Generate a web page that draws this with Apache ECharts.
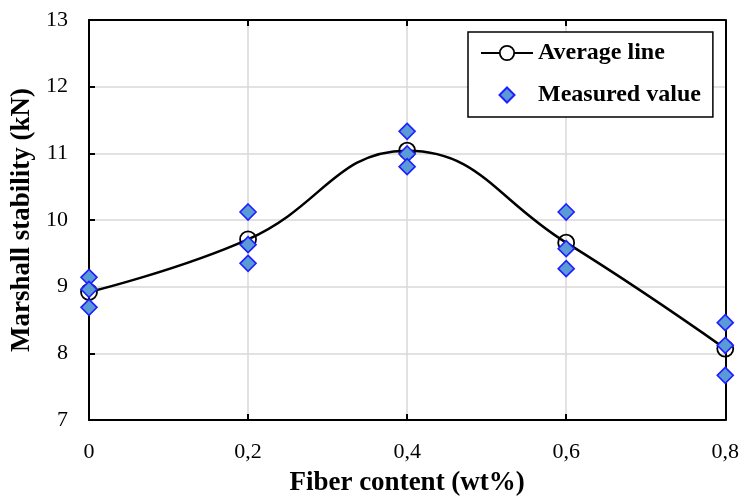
<!DOCTYPE html>
<html>
<head>
<meta charset="utf-8">
<script src="https://cdn.jsdelivr.net/npm/echarts@6/dist/echarts.min.js"></script>
<style>html,body{margin:0;padding:0;background:#fff}#c{width:742px;height:502px}</style>
</head>
<body>
<div id="c"></div>
<script>
const fiberContent = [0, 0.2, 0.4, 0.6, 0.8];
const averageStability = [8.92, 9.71, 11.04, 9.66, 8.07];
const measuredA = [9.14, 10.12, 11.33, 10.12, 8.46];
const measuredB = [8.96, 9.63, 10.99, 9.57, 8.12];
const measuredC = [8.69, 9.35, 10.80, 9.27, 7.67];
const xTickLabels = ['0', '0,2', '0,4', '0,6', '0,8'];
const yTickLabels = ['7', '8', '9', '10', '11', '12', '13'];

const FONT = "'Liberation Serif', 'Times New Roman', serif";
const lineData = fiberContent.map((x, i) => [x, averageStability[i]]);
const scatterData = [];
[measuredA, measuredB, measuredC].forEach(arr => arr.forEach((v, i) => scatterData.push([fiberContent[i], v])));

const chart = echarts.init(document.getElementById('c'), null, {renderer: 'canvas'});
const axisLine = {show: true, onZero: false, lineStyle: {color: '#000', width: 2}};
chart.setOption({
  animation: false,
  backgroundColor: '#fff',
  grid: {left: 89, top: 20, right: 14, bottom: 80, containLabel: false},
  legend: {
    orient: 'vertical',
    left: 468, top: 32,
    padding: [9, 12, 10, 12],
    itemGap: 18,
    itemWidth: 52, itemHeight: 18,
    borderColor: '#000', borderWidth: 1.5,
    backgroundColor: '#fff',
    textStyle: {fontFamily: FONT, fontSize: 24, fontWeight: 'bold', color: '#000'},
    data: [
      {name: 'Average line', itemStyle: {color: '#fff', borderColor: '#000', borderWidth: 1.8}},
      {name: 'Measured value', icon: 'path://M-1.2,-1.2M0,-1L1,0L0,1L-1,0ZM1.2,1.2'}
    ]
  },
  xAxis: [{
    type: 'value', min: 0, max: 0.8, interval: 0.2,
    name: 'Fiber content (wt%)', nameLocation: 'middle', nameGap: 50,
    nameTextStyle: {fontFamily: FONT, fontSize: 27, fontWeight: 'bold', color: '#000'},
    axisLine: axisLine,
    axisTick: {show: true, inside: true, length: 6, lineStyle: {color: '#000', width: 2}},
    axisLabel: {fontFamily: FONT, fontSize: 22, color: '#000', margin: 21,
      formatter: v => xTickLabels[Math.round(v / 0.2)]},
    splitLine: {show: true, lineStyle: {color: '#d9d9d9', width: 1.5}}
  }, {
    type: 'value', position: 'top', min: 0, max: 0.8, interval: 0.2,
    axisLine: axisLine,
    axisTick: {show: true, inside: true, length: 6, lineStyle: {color: '#000', width: 2}},
    axisLabel: {show: false}, splitLine: {show: false}
  }],
  yAxis: [{
    type: 'value', min: 7, max: 13, interval: 1,
    name: 'Marshall stability (kN)', nameLocation: 'middle', nameGap: 41,
    nameTextStyle: {fontFamily: FONT, fontSize: 27, fontWeight: 'bold', color: '#000'},
    axisLine: axisLine,
    axisTick: {show: true, inside: true, length: 6, lineStyle: {color: '#000', width: 2}},
    axisLabel: {fontFamily: FONT, fontSize: 22, color: '#000', margin: 21,
      formatter: v => yTickLabels[Math.round(v - 7)]},
    splitLine: {show: true, lineStyle: {color: '#d9d9d9', width: 1.5}}
  }, {
    type: 'value', position: 'right', min: 7, max: 13, interval: 1,
    axisLine: axisLine, axisTick: {show: false},
    axisLabel: {show: false}, splitLine: {show: false}
  }],
  series: [{
    name: 'Average line', type: 'line', data: lineData, smooth: 0.45,
    symbol: 'circle', symbolSize: 16, showSymbol: true,
    lineStyle: {color: '#000', width: 2.5},
    itemStyle: {color: 'rgba(255,255,255,0)', borderColor: '#000', borderWidth: 1.8},
    z: 3
  }, {
    name: 'Measured value', type: 'scatter', data: scatterData,
    symbol: 'diamond', symbolSize: 16,
    itemStyle: {color: '#5B9BD5', borderColor: '#1f1fff', borderWidth: 1.6, opacity: 1},
    z: 4
  }]
});
</script>
</body>
</html>
